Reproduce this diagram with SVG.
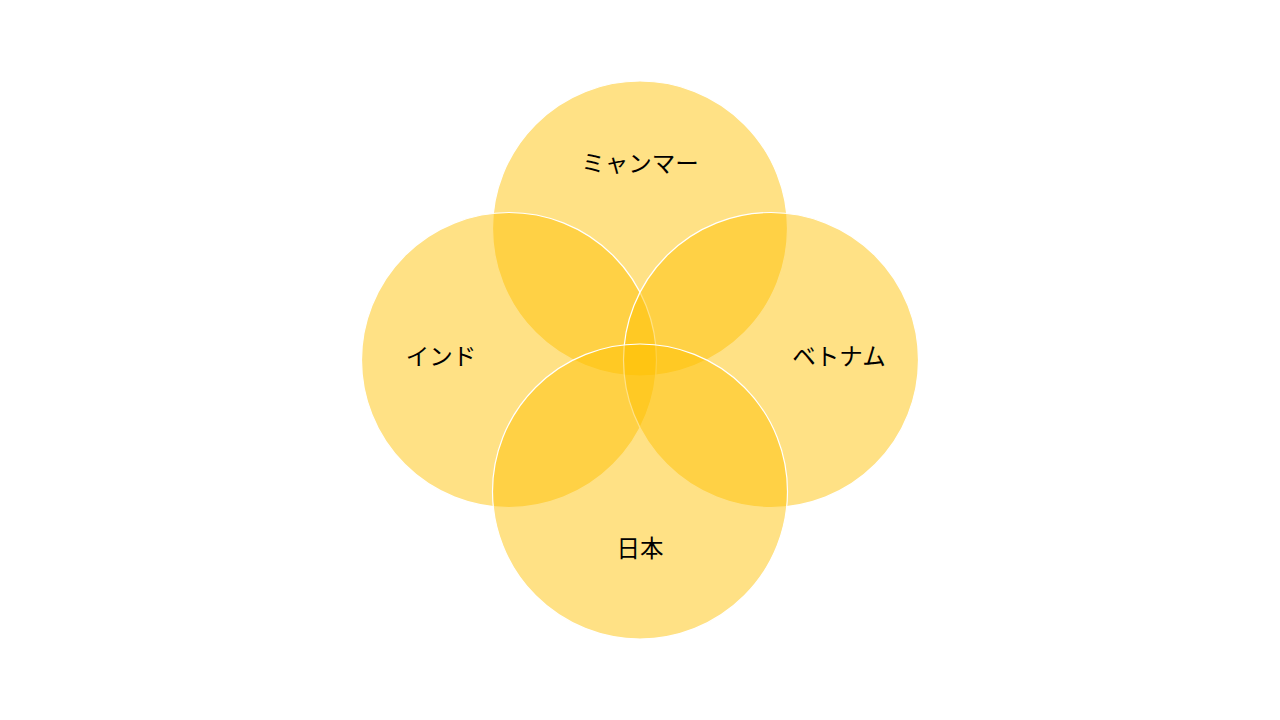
<svg xmlns="http://www.w3.org/2000/svg" width="1280" height="720" viewBox="0 0 1280 720">
<style>
.c{fill:#FFC000;fill-opacity:0.48;stroke:#FFFFFF;stroke-width:1.2}
.t{font-family:"Noto Sans CJK JP","Noto Sans CJK SC",sans-serif;font-size:23.5px;fill:#000;text-anchor:middle}
</style>
<rect width="1280" height="720" fill="#FFFFFF"/>
<g id="connectors"/>
<g id="myanmar"><circle class="c" cx="640" cy="228.5" r="147.5"/></g>
<g id="india"><circle class="c" cx="509" cy="360" r="147.5"/></g>
<g id="vietnam"><circle class="c" cx="771" cy="360" r="147.5"/></g>
<g id="japan"><circle class="c" cx="640" cy="491.5" r="147.5"/></g>
<g id="labels">
<text class="t" x="640" y="172">ミャンマー</text>
<text class="t" x="441" y="365">インド</text>
<text class="t" x="839" y="365">ベトナム</text>
<text class="t" x="640" y="557">日本</text>
</g>
</svg>
